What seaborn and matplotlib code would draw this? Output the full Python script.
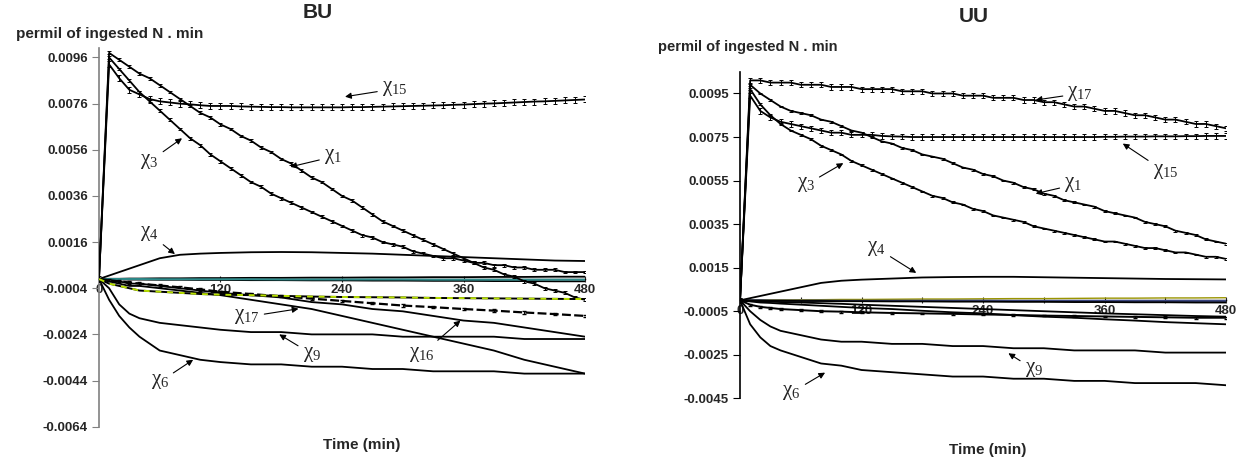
import numpy as np
import matplotlib.pyplot as plt
import seaborn as sns

sns.set_style('white')
plt.rcParams['font.family'] = ['Liberation Sans', 'DejaVu Sans']
plt.rcParams['axes.unicode_minus'] = False
plt.rcParams['mathtext.fontset'] = 'custom'
plt.rcParams['mathtext.rm'] = 'Liberation Serif'

# time grids (min)
t_fine = list(range(0, 481, 10))
t_coarse = [0, 10, 20, 30, 40, 60, 80, 100, 120, 150, 180, 210, 240, 270, 300, 330, 360, 390, 420, 450, 480]
x_ticks = [0, 120, 240, 360, 480]

# ---- BU panel ----
bu_yticks = [0.0096, 0.0076, 0.0056, 0.0036, 0.0016, -0.0004, -0.0024, -0.0044, -0.0064]

bu_chi1 = [0, 0.0098, 0.0095, 0.0092, 0.0089, 0.0087, 0.0084, 0.0081, 0.0078, 0.0075, 0.0072, 0.0070,
           0.0067, 0.0065, 0.0062, 0.0060, 0.0057, 0.0055, 0.0052, 0.0050, 0.0047, 0.0044, 0.0042, 0.0039,
           0.0036, 0.0034, 0.0031, 0.0028, 0.0025, 0.0023, 0.0021, 0.0019, 0.0017, 0.0015, 0.0013, 0.0011,
           0.0009, 0.0007, 0.0005, 0.0004, 0.0002, 0.0001, -0.0001, -0.0002, -0.0004, -0.0005, -0.0006,
           -0.0008, -0.0009]
bu_chi3 = [0, 0.0096, 0.0091, 0.0086, 0.0081, 0.0077, 0.0073, 0.0069, 0.0065, 0.0061, 0.0058, 0.0054,
           0.0051, 0.0048, 0.0045, 0.0042, 0.0040, 0.0037, 0.0035, 0.0033, 0.0031, 0.0029, 0.0027, 0.0025,
           0.0023, 0.0021, 0.0019, 0.0018, 0.0016, 0.0015, 0.0014, 0.0012, 0.0011, 0.0010, 0.0009, 0.0009,
           0.0008, 0.0007, 0.0007, 0.0006, 0.0006, 0.0005, 0.0005, 0.0004, 0.0004, 0.0004, 0.0003, 0.0003,
           0.0003]
bu_chi15 = [0, 0.0093, 0.0087, 0.0082, 0.0080, 0.0078, 0.0077, 0.00765, 0.0076, 0.00757, 0.00753, 0.0075,
            0.0075, 0.0075, 0.00748, 0.00747, 0.00746, 0.00745, 0.00745, 0.00744, 0.00744, 0.00744, 0.00744,
            0.00744, 0.00744, 0.00745, 0.00745, 0.00746, 0.00747, 0.00748, 0.00749, 0.0075, 0.00751, 0.00752,
            0.00753, 0.00755, 0.00756, 0.00758, 0.0076, 0.00761, 0.00763, 0.00765, 0.00767, 0.00769, 0.0077,
            0.00772, 0.00774, 0.00776, 0.00778]
bu_err_small = 0.00006
bu_err_chi15 = 0.00013

bu_chi4 = [0, 0.00015, 0.0003, 0.00045, 0.0006, 0.0009, 0.00105, 0.0011, 0.00113, 0.00116, 0.00117,
           0.00116, 0.00113, 0.0011, 0.00105, 0.001, 0.00095, 0.0009, 0.00085, 0.0008, 0.00078]
bu_chi6 = [0, -0.0009, -0.0016, -0.0021, -0.0025, -0.0031, -0.0033, -0.0035, -0.0036, -0.0037, -0.0037,
           -0.0038, -0.0038, -0.0039, -0.0039, -0.0040, -0.0040, -0.0040, -0.0041, -0.0041, -0.0041]
bu_chi9 = [0, -0.0004, -0.0011, -0.0015, -0.0017, -0.0019, -0.0020, -0.0021, -0.0022, -0.0023, -0.0023,
           -0.0024, -0.0024, -0.0024, -0.0025, -0.0025, -0.0025, -0.0025, -0.0026, -0.0026, -0.0026]
bu_chi16 = [0, -0.0001, -0.0001, -0.0002, -0.0002, -0.0003, -0.0004, -0.0005, -0.0006, -0.0007, -0.0008,
            -0.0010, -0.0011, -0.0013, -0.0014, -0.0016, -0.0018, -0.0019, -0.0021, -0.0023, -0.0025]
bu_chi17 = [0, -0.0001, -0.0002, -0.0003, -0.0003, -0.0004, -0.0005, -0.0006, -0.0007, -0.0009, -0.0011,
            -0.0013, -0.0016, -0.0019, -0.0022, -0.0025, -0.0028, -0.0031, -0.0035, -0.0038, -0.0041]
bu_dash = [0, -0.00005, -0.0001, -0.00015, -0.0002, -0.00028, -0.00036, -0.00045, -0.00055, -0.00065,
           -0.00075, -0.00085, -0.00095, -0.00105, -0.00115, -0.00122, -0.0013, -0.00137, -0.00145,
           -0.00152, -0.0016]
bu_green = [0, -0.0002, -0.0003, -0.0004, -0.0005, -0.00055, -0.0006, -0.00065, -0.00068, -0.0007, -0.00073,
            -0.00076, -0.00078, -0.00079, -0.0008, -0.00082, -0.00083, -0.00084, -0.00085, -0.00086, -0.00087]
bu_up = [0, 0.00001, 0.00001, 0.00002, 0.00002, 0.00003, 0.00003, 0.00004, 0.00004, 0.00005, 0.00005,
         0.00006, 0.00006, 0.00007, 0.00007, 0.00008, 0.00008, 0.00009, 0.00009, 0.0001, 0.0001]
bu_down = [0, -0.00001, -0.00001, -0.00002, -0.00002, -0.00003, -0.00003, -0.00004, -0.00004, -0.00005,
           -0.00005, -0.00006, -0.00006, -0.00007, -0.00007, -0.00008, -0.00008, -0.00009, -0.00009,
           -0.0001, -0.0001]
bu_teal = [0, 0, 0, 0, 0, -0.00001, -0.00001, -0.00001, -0.00001, -0.00001, -0.00002, -0.00002, -0.00002,
           -0.00002, -0.00002, -0.00003, -0.00003, -0.00003, -0.00003, -0.00003, -0.00003]

# ---- UU panel ----
uu_yticks = [0.0095, 0.0075, 0.0055, 0.0035, 0.0015, -0.0005, -0.0025, -0.0045]

uu_chi17 = [0, 0.0101, 0.0101, 0.0100, 0.0100, 0.0100, 0.0099, 0.0099, 0.0099, 0.0098, 0.0098, 0.0098,
            0.0097, 0.0097, 0.0097, 0.0097, 0.0096, 0.0096, 0.0096, 0.0095, 0.0095, 0.0095, 0.0094, 0.0094,
            0.0094, 0.0093, 0.0093, 0.0093, 0.0092, 0.0092, 0.0091, 0.0091, 0.0090, 0.0089, 0.0089, 0.0088,
            0.0087, 0.0087, 0.0086, 0.0085, 0.0085, 0.0084, 0.0083, 0.0083, 0.0082, 0.0081, 0.0081, 0.0080,
            0.0079]
uu_chi15 = [0, 0.0094, 0.0087, 0.0084, 0.0082, 0.0081, 0.0080, 0.0079, 0.0078, 0.0077, 0.0077, 0.0076,
            0.0076, 0.0076, 0.00755, 0.00753, 0.00752, 0.0075, 0.0075, 0.0075, 0.0075, 0.0075, 0.0075,
            0.0075, 0.0075, 0.0075, 0.0075, 0.0075, 0.0075, 0.0075, 0.0075, 0.0075, 0.0075, 0.0075, 0.0075,
            0.0075, 0.00751, 0.00751, 0.00752, 0.00752, 0.00752, 0.00753, 0.00753, 0.00753, 0.00754,
            0.00754, 0.00755, 0.00755, 0.00755]
uu_chi1 = [0, 0.0099, 0.0095, 0.0092, 0.0089, 0.0087, 0.0086, 0.0085, 0.0083, 0.0082, 0.0080, 0.0078,
           0.0077, 0.0075, 0.0073, 0.0072, 0.0070, 0.0069, 0.0067, 0.0066, 0.0065, 0.0063, 0.0061, 0.0060,
           0.0058, 0.0057, 0.0055, 0.0054, 0.0052, 0.0051, 0.0049, 0.0048, 0.0046, 0.0045, 0.0044, 0.0043,
           0.0041, 0.0040, 0.0039, 0.0038, 0.0036, 0.0035, 0.0034, 0.0032, 0.0031, 0.0030, 0.0028, 0.0027,
           0.0026]
uu_chi3 = [0, 0.0097, 0.0090, 0.0085, 0.0081, 0.0078, 0.0076, 0.0074, 0.0071, 0.0069, 0.0067, 0.0064,
           0.0062, 0.0060, 0.0058, 0.0056, 0.0054, 0.0052, 0.0050, 0.0048, 0.0047, 0.0045, 0.0044, 0.0042,
           0.0041, 0.0039, 0.0038, 0.0037, 0.0036, 0.0034, 0.0033, 0.0032, 0.0031, 0.0030, 0.0029, 0.0028,
           0.0027, 0.0027, 0.0026, 0.0025, 0.0024, 0.0024, 0.0023, 0.0022, 0.0022, 0.0021, 0.0020, 0.0020,
           0.0019]
uu_err_small = 0.00004
uu_err_big = 0.00012

uu_chi4 = [0, 0.0001, 0.0002, 0.0003, 0.0004, 0.0006, 0.0008, 0.0009, 0.00095, 0.001, 0.00105, 0.00107,
           0.00108, 0.00108, 0.00106, 0.00104, 0.00102, 0.001, 0.00098, 0.00097, 0.00096]
uu_chi6 = [0, -0.0011, -0.0017, -0.0021, -0.0023, -0.0026, -0.0029, -0.0030, -0.0032, -0.0033, -0.0034,
           -0.0035, -0.0035, -0.0036, -0.0036, -0.0037, -0.0037, -0.0038, -0.0038, -0.0038, -0.0039]
uu_chi9 = [0, -0.0005, -0.0009, -0.0012, -0.0014, -0.0016, -0.0018, -0.0019, -0.0019, -0.0020, -0.0020,
           -0.0021, -0.0021, -0.0022, -0.0022, -0.0023, -0.0023, -0.0023, -0.0024, -0.0024, -0.0024]
uu_dash = [0, -0.0002, -0.0003, -0.00035, -0.0004, -0.00045, -0.0005, -0.00052, -0.00055, -0.00058,
           -0.0006, -0.00062, -0.00065, -0.00067, -0.0007, -0.00072, -0.00074, -0.00076, -0.00078,
           -0.0008, -0.0008]
uu_line_b = [0, -0.00005, -0.0001, -0.00012, -0.00015, -0.0002, -0.00025, -0.0003, -0.00035, -0.0004,
             -0.00048, -0.00055, -0.0006, -0.00068, -0.00075, -0.0008, -0.00087, -0.00093, -0.001,
             -0.00105, -0.0011]
uu_line_c = [0, -0.00002, -0.00004, -0.00006, -0.00008, -0.0001, -0.00013, -0.00016, -0.0002, -0.00025,
             -0.0003, -0.00035, -0.0004, -0.00045, -0.0005, -0.00055, -0.0006, -0.00064, -0.00068,
             -0.00072, -0.00075]
uu_olive = [0, 0.00001, 0.00001, 0.00002, 0.00002, 0.00003, 0.00003, 0.00004, 0.00004, 0.00005, 0.00006,
            0.00006, 0.00007, 0.00008, 0.00008, 0.00009, 0.0001, 0.0001, 0.00011, 0.00011, 0.00012]
uu_navy = [0, 0, 0, -0.00001, -0.00001, -0.00001, -0.00001, -0.00002, -0.00002, -0.00002, -0.00002,
           -0.00002, -0.00002, -0.00003, -0.00003, -0.00003, -0.00003, -0.00003, -0.00003, -0.00003, -0.00003]
uu_down = [0, -0.00001, -0.00001, -0.00002, -0.00002, -0.00003, -0.00003, -0.00004, -0.00004, -0.00005,
           -0.00005, -0.00006, -0.00006, -0.00007, -0.00007, -0.00008, -0.00008, -0.00009, -0.00009,
           -0.0001, -0.0001]


def line(ax, x, y, color='black', lw=1.3, ls='-', z=3):
    sns.lineplot(x=x, y=y, ax=ax, color=color, linewidth=lw, linestyle=ls, legend=False, zorder=z)


def err_line(ax, x, y, e):
    line(ax, x, y)
    ax.errorbar(x, y, yerr=e, fmt='none', ecolor='black', elinewidth=0.7, capsize=1.6, capthick=0.7, zorder=3)


def label(ax, sub, txt, tip):
    ax.annotate(r'$\mathrm{\chi}_{\mathrm{%s}}$' % sub, xy=tip, xytext=txt, ha='center', va='center',
                fontsize=15, zorder=5,
                arrowprops=dict(arrowstyle='-|>', color='black', lw=0.8, mutation_scale=9,
                                shrinkA=1, shrinkB=0))


def style_axis(ax, ylim, yticks, spine_color, minor):
    ax.set_xlim(0, 480)
    ax.set_ylim(*ylim)
    for s in ['top', 'right']:
        ax.spines[s].set_visible(False)
    ax.spines['bottom'].set_position(('data', 0))
    ax.spines['bottom'].set_color('black')
    ax.spines['bottom'].set_linewidth(1.0)
    ax.spines['left'].set_color(spine_color)
    ax.spines['left'].set_linewidth(1.2)
    ax.set_xticks(x_ticks)
    if minor:
        ax.set_xticks([60, 180, 300, 420], minor=True)
    ax.set_xticklabels([str(v) for v in x_ticks])
    ax.set_yticks(yticks)
    ax.set_yticklabels(['%.4f' % v for v in yticks])
    ax.tick_params(axis='x', which='both', direction='inout', length=5, width=0.8, pad=1,
                   labelsize=9.5, bottom=True)
    ax.tick_params(axis='y', direction='out', length=5, width=0.8, pad=3, labelsize=9.5, left=True,
                   color=spine_color)
    for lab in ax.get_xticklabels() + ax.get_yticklabels():
        lab.set_fontweight('bold')
    ax.set_xlabel('')
    ax.set_ylabel('')
    ax.grid(False)


fig = plt.figure(figsize=(12.45, 4.65), dpi=100)
ax1 = fig.add_axes([0.0795, 0.0824, 0.3904, 0.8138])
ax2 = fig.add_axes([0.5944, 0.1434, 0.3904, 0.7024])

# BU
line(ax1, t_coarse, bu_up)
line(ax1, t_coarse, bu_down)
line(ax1, t_coarse, bu_teal, color='#2e8b8b', lw=1.4)
line(ax1, t_coarse, bu_chi4)
line(ax1, t_coarse, bu_chi6)
line(ax1, t_coarse, bu_chi9)
line(ax1, t_coarse, bu_chi16)
line(ax1, t_coarse, bu_chi17)
line(ax1, t_coarse, bu_green, lw=1.4)
line(ax1, t_coarse, bu_green, color='#b8e000', lw=1.4, ls=(0, (3, 3)), z=3.5)
ax1.errorbar(t_coarse, bu_dash, yerr=0.00005, fmt='none', ecolor='black', elinewidth=0.7, capsize=1.2, zorder=3)
line(ax1, t_coarse, bu_dash, lw=1.6, ls=(0, (4, 1.5)))
err_line(ax1, t_fine, bu_chi1, bu_err_small)
err_line(ax1, t_fine, bu_chi3, bu_err_small)
err_line(ax1, t_fine, bu_chi15, bu_err_chi15)
style_axis(ax1, (-0.0064, 0.0100), bu_yticks, '#808080', False)

label(ax1, '15', (292, 0.00824), (243, 0.0079))
label(ax1, '1', (231, 0.0053), (189, 0.00486))
label(ax1, '3', (50, 0.0051), (82, 0.0061))
label(ax1, '4', (50, 0.00196), (75, 0.00108))
label(ax1, '17', (146, -0.00164), (197, -0.00129))
label(ax1, '9', (210, -0.00325), (178, -0.0024))
label(ax1, '16', (319, -0.00325), (357, -0.0018))
label(ax1, '6', (60, -0.00446), (93, -0.0035))

# UU
line(ax2, t_coarse, uu_olive, color='#9a9400', lw=1.0)
line(ax2, t_coarse, uu_navy, color='#3a4680', lw=1.5)
line(ax2, t_coarse, uu_down)
line(ax2, t_coarse, uu_chi4)
line(ax2, t_coarse, uu_chi6)
line(ax2, t_coarse, uu_chi9)
line(ax2, t_coarse, uu_line_b)
line(ax2, t_coarse, uu_line_c)
ax2.errorbar(t_coarse, uu_dash, yerr=0.00004, fmt='none', ecolor='black', elinewidth=0.7, capsize=1.2, zorder=3)
line(ax2, t_coarse, uu_dash, lw=1.4)
err_line(ax2, t_fine, uu_chi17, uu_err_big)
err_line(ax2, t_fine, uu_chi15, uu_err_big)
err_line(ax2, t_fine, uu_chi1, uu_err_small)
err_line(ax2, t_fine, uu_chi3, uu_err_small)
style_axis(ax2, (-0.0045, 0.0105), uu_yticks, 'black', True)

label(ax2, '17', (336, 0.0095), (292, 0.0092))
label(ax2, '15', (420, 0.0059), (378, 0.0072))
label(ax2, '1', (329, 0.0053), (292, 0.0049))
label(ax2, '3', (65, 0.0053), (102, 0.0063))
label(ax2, '4', (135, 0.0024), (174, 0.00126))
label(ax2, '9', (290, -0.00317), (265, -0.00243))
label(ax2, '6', (51, -0.00423), (84, -0.00332))

W, H = 1245, 465
fig.text(318 / W, 1 - 13 / H, 'BU', ha='center', va='center', fontsize=15, fontweight='bold')
fig.text(974 / W, 1 - 16 / H, 'UU', ha='center', va='center', fontsize=15, fontweight='bold')
fig.text(110 / W, 1 - 34 / H, 'permil of ingested N . min', ha='center', va='center', fontsize=11, fontweight='bold')
fig.text(748 / W, 1 - 47 / H, 'permil of ingested N . min', ha='center', va='center', fontsize=10.5, fontweight='bold')
fig.text(362 / W, 1 - 445 / H, 'Time (min)', ha='center', va='center', fontsize=11, fontweight='bold')
fig.text(988 / W, 1 - 450 / H, 'Time (min)', ha='center', va='center', fontsize=11, fontweight='bold')

fig.savefig('out.png', dpi=100)
